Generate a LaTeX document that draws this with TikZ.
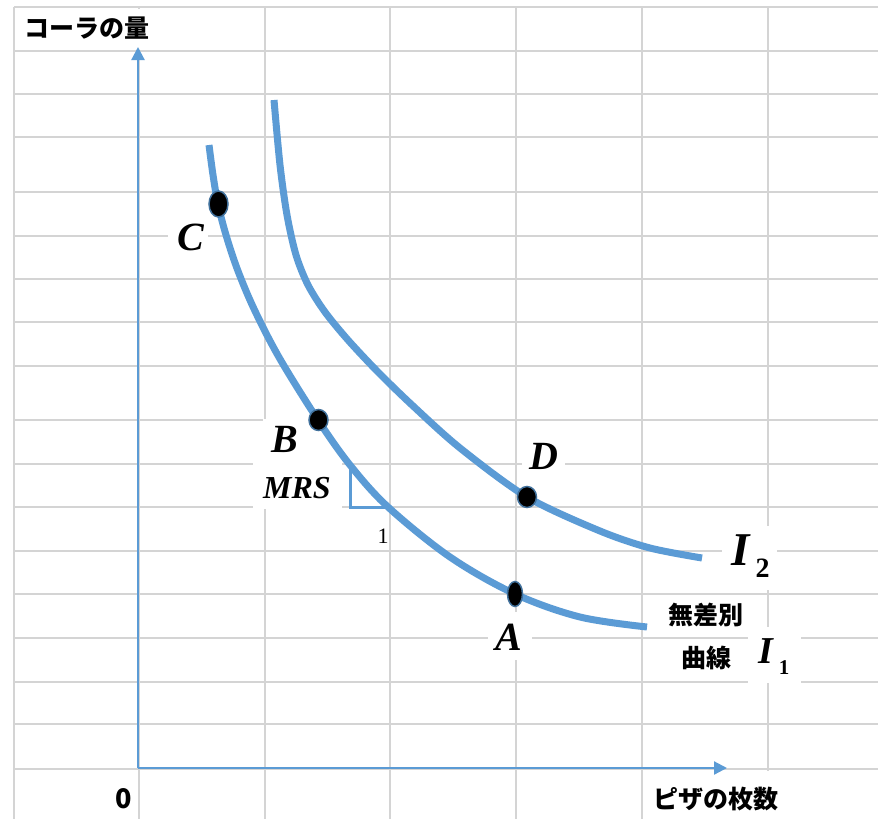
\documentclass[tikz,border=0pt]{standalone}
\usepackage{fontspec}
\setmainfont{Liberation Serif}
\newfontfamily\jp{Noto Sans CJK JP}
\usetikzlibrary{arrows.meta,shapes.geometric}
\definecolor{curveblue}{HTML}{5B9BD5}
\definecolor{gridgray}{HTML}{D4D4D4}
\definecolor{dotrim}{HTML}{41719C}
\begin{document}
\begin{tikzpicture}[x=1pt,y=-1pt,
  gridline/.style={draw=gridgray,line width=1.6pt},
  axis/.style={draw=curveblue,line width=2.2pt,-{Triangle[length=13pt,width=13pt]}},
  icurve/.style={draw=curveblue,line width=7pt},
  dot/.style={ellipse,fill=black,draw=dotrim,line width=1.5pt,inner sep=0pt},
  ptlabel/.style={font=\fontsize{40}{40}\selectfont\bfseries\itshape,inner sep=0pt},
  jplabel/.style={font=\jp\bfseries\fontsize{25}{25}\selectfont,inner sep=0pt},
  mask/.style={fill=white,draw=none}
]
\useasboundingbox[fill=white] (0,0) rectangle (878,819);
% grid
\foreach \gx in {14,139,265,390,516,642,768}
  \draw[gridline] (\gx,7) -- (\gx,819);
\foreach \gy in {7,51,94,137,192,236,279,322,366,420,464,507,551,594,638,682,724,769}
  \draw[gridline] (14,\gy) -- (878,\gy);
% label backgrounds
\fill[mask] (15,8.5) rectangle (263,49.5);
\fill[mask] (643.5,770.5) rectangle (878,819);
\fill[mask] (722,526) rectangle (777,590);
\fill[mask] (748,627) rectangle (801,683);
\fill[mask] (263,419) rectangle (310,463);
\fill[mask] (253,463) rectangle (342,509);
\fill[mask] (168,222) rectangle (208,258);
\fill[mask] (522,440) rectangle (565,475);
\fill[mask] (488,612) rectangle (532,660);
% axes
\coordinate (O) at (138,768);
\coordinate (ytip) at (138,47);
\coordinate (xtip) at (727,768);
\draw[axis] (O) -- (ytip);
\draw[axis] (O) -- (xtip);
% indifference curves
\draw[icurve] plot[smooth,tension=0.55] coordinates {(209,145) (213,175) (218,204) (226,235) (238,271) (255,311) (280,359) (318,420) (350,465) (388,507) (450,557) (515,594) (580,617) (647,627)};
\draw[icurve] plot[smooth,tension=0.5] coordinates {(274,100) (280,165) (287,215) (296,255) (308,285) (325,312) (348,340) (378,372) (412,405) (460,448) (527,497) (600,531) (650,548) (702,558)};
% MRS triangle
\coordinate (t1) at (350,465);
\coordinate (t2) at (350,507);
\coordinate (t3) at (388,507);
\draw[curveblue,line width=3pt] (t1) -- (t2) -- (t3);
% points
\node[dot,minimum width=19pt,minimum height=26pt] (ptC) at (218.5,204) {};
\node[dot,minimum width=19pt,minimum height=21pt] (ptB) at (318.5,420) {};
\node[dot,minimum width=19pt,minimum height=21pt] (ptD) at (527,497) {};
\node[dot,minimum width=15pt,minimum height=25pt] (ptA) at (515,594) {};
% labels
\node[ptlabel] (lC) at (191,237) {C};
\node[ptlabel] (lB) at (285,439) {B};
\node[ptlabel] (lD) at (544,456) {D};
\node[ptlabel] (lA) at (509,637) {A};
\node[font=\fontsize{32}{32}\selectfont\bfseries\itshape,inner sep=0pt] (lMRS) at (297,488) {MRS};
\node[font=\fontsize{22}{22}\selectfont,inner sep=0pt] (lone) at (383,536) {1};
\node[anchor=base west,inner sep=0pt] (lI2) at (731,565)
  {\fontsize{47}{47}\selectfont\bfseries\itshape I\kern6pt\raisebox{-12pt}{\fontsize{28}{28}\selectfont\upshape 2}};
\node[anchor=base west,inner sep=0pt] (lI1) at (758,663)
  {\fontsize{38}{38}\selectfont\bfseries\itshape I\kern6pt\raisebox{-11pt}{\fontsize{21}{21}\selectfont\upshape 1}};
\node[jplabel] (ly) at (87,28) {コーラの量};
\node[jplabel] (lx) at (716,799) {ピザの枚数};
\node[jplabel,font=\jp\bfseries\fontsize{27}{27}\selectfont] (lO) at (124,799) {0};
\node[jplabel] (lm1) at (706,615) {無差別};
\node[jplabel] (lm2) at (706,658) {曲線};
\end{tikzpicture}
\end{document}
